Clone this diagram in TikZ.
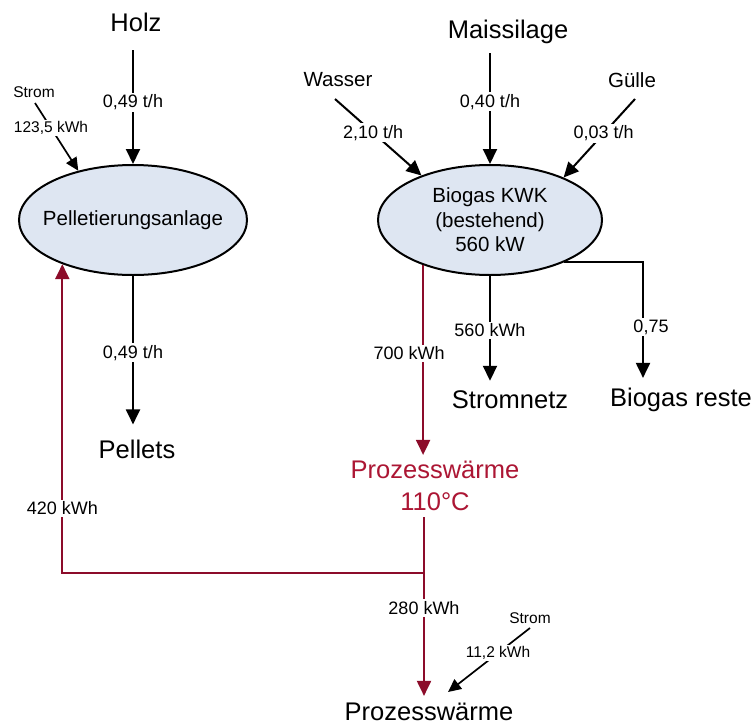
\documentclass[tikz,border=0pt]{standalone}
\usepackage{fontspec}
\setmainfont{Liberation Sans}
\usetikzlibrary{arrows.meta,shapes.geometric}
\definecolor{heat}{RGB}{140,12,42}
\definecolor{heattext}{RGB}{172,22,52}
\definecolor{unitfill}{RGB}{222,230,242}
\begin{document}
\begin{tikzpicture}[x=1pt,y=-1pt,
  unit/.style={ellipse,draw,line width=2pt,fill=unitfill,inner sep=0pt},
  unittext/.style={inner sep=0pt,align=center,font=\fontsize{20.5}{24.5}\selectfont},
  big/.style={inner sep=0pt,align=center,font=\fontsize{25.5}{32}\selectfont},
  mid/.style={inner sep=0pt,font=\fontsize{20.5}{24}\selectfont},
  small/.style={inner sep=0pt,font=\fontsize{15.5}{18}\selectfont},
  lbl/.style={fill=white,inner sep=2pt,font=\fontsize{18}{21}\selectfont},
  slbl/.style={fill=white,inner sep=1.5pt,font=\fontsize{15.5}{18}\selectfont},
  flow/.style={line width=2pt,-{Triangle[length=15pt,width=14pt]}},
  sflow/.style={line width=1.7pt,-{Triangle[length=13pt,width=12pt]}},
  heatline/.style={line width=2pt,draw=heat},
  heatflow/.style={heatline,-{Triangle[length=15pt,width=14pt]}}
]
\fill[white] (0,0) rectangle (754,725);
\useasboundingbox (0,0) rectangle (754,725);

% process units
\node[unit,minimum width=228pt,minimum height=110pt,
  label={[unittext]center:Pelletierungsanlage}] (pel) at (133,220) {};
\node[unit,minimum width=224pt,minimum height=110pt,
  label={[unittext]center:{Biogas KWK\\(bestehend)\\560 kW}}] (bio) at (490,220) {};

% sources and sinks
\node[big] (holz) at (136,22) {Holz};
\node[small] (strom1) at (34,92) {Strom};
\node[big] (pellets) at (137,449) {Pellets};
\node[big] (mais) at (508,32) {Maissilage};
\node[mid] (wasser) at (338,80) {Wasser};
\node[mid] (guelle) at (632,80) {Gülle};
\node[big] (netz) at (510,400) {Stromnetz};
\node[big] (reste) at (681,400) {Biogas reste};
\node[big,text=heattext] (pw1) at (435,486) {Prozesswärme\\110°C};
\node[big] (pw2) at (429,712) {Prozesswärme};
\node[small] (strom2) at (530,618) {Strom};
\coordinate (split) at (424,573);

% pellet plant
\draw[flow,shorten <=18.7pt] (holz.south -| pel.north) -- node[lbl,pos=.536]{0,49 t/h} (pel.north);
\draw[sflow] ([shift={(1,11)}]strom1.center) -- node[slbl,pos=.37]{123,5 kWh} (pel.138);
\draw[flow,shorten >=15pt] (pel.south) -- node[lbl,pos=.47]{0,49 t/h} (pel.south |- pellets.north);

% biogas plant
\draw[flow,shorten <=9pt] (mais.south -| bio.north) -- node[lbl,pos=.48]{0,40 t/h} (bio.north);
\draw[flow] ([shift={(-3,19)}]wasser.center) -- node[lbl,pos=.44]{2,10 t/h} (bio.147);
\draw[flow] ([shift={(3,19)}]guelle.center) -- node[lbl,pos=.44]{0,03 t/h} (bio.30);
\draw[flow,shorten >=10pt] (bio.south) -- node[lbl,pos=.475]{560 kWh} (bio.south |- netz.north);
\draw[flow,shorten >=10pt] (bio.-30) -| node[lbl,pos=.757,xshift=8pt]{0,75} ([xshift=-38pt]reste.north);

% process heat
\draw[heatflow,shorten >=6pt] (bio.214) -- node[lbl,pos=.45,xshift=-14pt]{700 kWh} (bio.214 |- pw1.north);
\draw[heatline,shorten <=6pt] ([xshift=-11pt]pw1.south) -- (split);
\draw[heatflow,shorten >=7pt] (split) -- node[lbl,pos=.27]{280 kWh} ([xshift=-5pt]pw2.north);
\draw[heatflow] (split) -| node[lbl,pos=.605]{420 kWh} (pel.212);
\draw[sflow] ([shift={(0,10)}]strom2.center) -- node[slbl,pos=.39]{11,2 kWh} ([shift={(19,-20)}]pw2.center);
\end{tikzpicture}
\end{document}
